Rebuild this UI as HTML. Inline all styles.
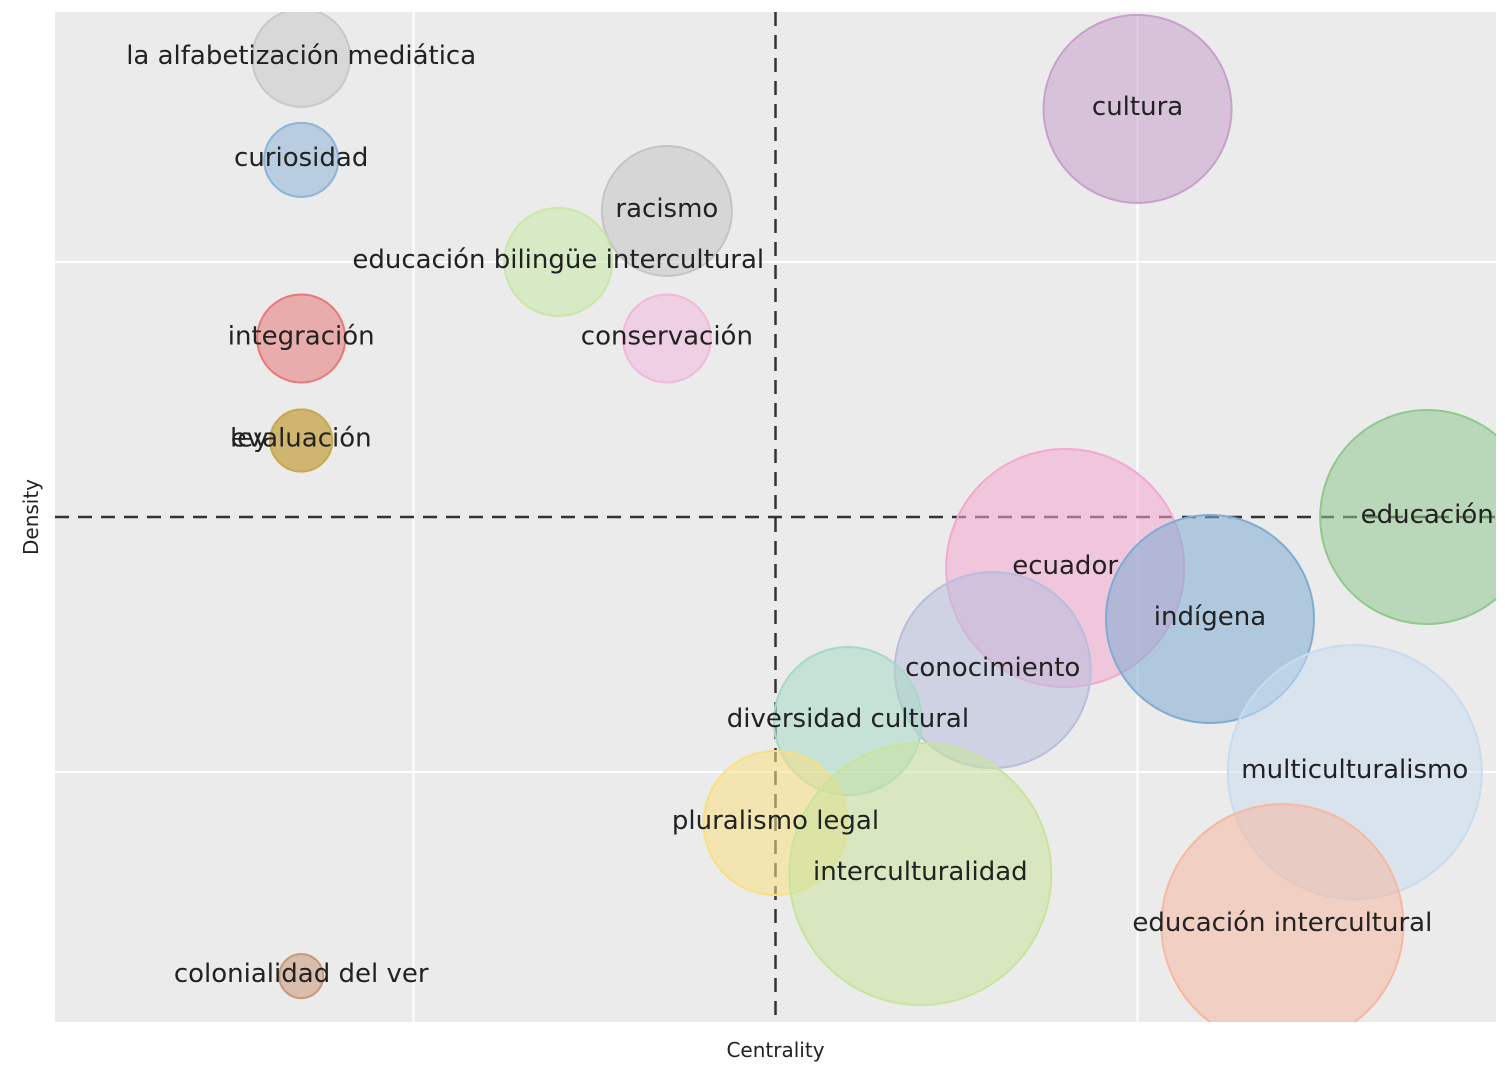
<!DOCTYPE html>
<html><head><meta charset="utf-8"><style>
html,body{margin:0;padding:0;background:#fff;}
svg text{font-family:"DejaVu Sans","Liberation Sans",sans-serif;}
</style></head><body>
<svg id="chart" width="1505" height="1078" xmlns="http://www.w3.org/2000/svg"></svg>
<script>
const labels=["la alfabetización mediática","curiosidad","racismo","educación bilingüe intercultural","integración","conservación","evaluación","ley","cultura","educación","ecuador","indígena","conocimiento","diversidad cultural","multiculturalismo","pluralismo legal","interculturalidad","educación intercultural","colonialidad del ver"];
const centrality=[-6.55,-6.55,-1.5,-3,-6.55,-1.5,-6.55,-6.55,5,9,4,6,3,1,8,0,2,7,-6.55];
const density=[9,7,6,5,3.5,3.5,1.5,1.5,8,0,-1,-2,-3,-4,-5,-6,-7,-8,-9];
const sizes=[49,37,65,54,44,44,31,31,94,107,119,104,98,74,127,72,131,121,22];
const colors=["#c8c8c8","#8fb4d8","#c4c4c4","#c8e8a8","#e87878","#f0b8dc","#c8a850","#c8a850","#c8a0cc","#90c890","#f4a8d0","#80acd4","#b8bedc","#a8d8c4","#c8dcee","#f8e080","#c8e49c","#f6b8a0","#c89878"];
const X0=55,X1=1496,Y0=12,Y1=1022,XR=9.95,YR=9.9;
const xs=v=>(X0+X1)/2+v*(X1-X0)/(2*XR);
const ys=v=>(Y0+Y1)/2-v*(Y1-Y0)/(2*YR);
const svg=document.getElementById('chart');const NS="http://www.w3.org/2000/svg";
function mk(t,a,p){const e=document.createElementNS(NS,t);for(const k in a)e.setAttribute(k,a[k]);(p||svg).appendChild(e);return e;}
const defs=mk('defs',{});const cp=mk('clipPath',{id:'pc'},defs);mk('rect',{x:X0,y:Y0,width:X1-X0,height:Y1-Y0},cp);
const bg=mk('rect',{x:X0,y:Y0,width:X1-X0,height:Y1-Y0,fill:'#ebebeb'});


[-5,5].forEach(v=>{const g=mk('line',{x1:xs(v),x2:xs(v),y1:Y0,y2:Y1,stroke:'#fff','stroke-width':2});


const h=mk('line',{x1:X0,x2:X1,y1:ys(v),y2:ys(v),stroke:'#fff','stroke-width':2});

});
const dv=mk('line',{x1:xs(0),x2:xs(0),y1:Y0,y2:Y1,stroke:'#333','stroke-width':2.5,'stroke-dasharray':'14,9'});


const dh=mk('line',{x1:X0,x2:X1,y1:ys(0),y2:ys(0),stroke:'#333','stroke-width':2.5,'stroke-dasharray':'14,9'});


const gc=mk('g',{'clip-path':'url(#pc)'});
labels.forEach((l,i)=>{const c=mk('circle',{cx:xs(centrality[i]),cy:ys(density[i]),r:sizes[i],fill:colors[i],'fill-opacity':0.55,stroke:colors[i],'stroke-width':2},gc);

});
const gt=mk('g',{'clip-path':'url(#pc)'});
labels.forEach((l,i)=>{const isLey=(l==='ley');const t=mk('text',{x:isLey?230:xs(centrality[i]),y:ys(density[i])+6,'text-anchor':isLey?'start':'middle','font-size':26,fill:'#222'},gt);t.textContent=l;

});
const xt=mk('text',{x:xs(0),y:1057,'text-anchor':'middle','font-size':20,fill:'#222'});xt.textContent='Centrality';


const yt=mk('text',{x:38,y:ys(0),'text-anchor':'middle','font-size':20,fill:'#222',transform:`rotate(-90 38 ${ys(0)})`});yt.textContent='Density';


</script>
</body></html>
